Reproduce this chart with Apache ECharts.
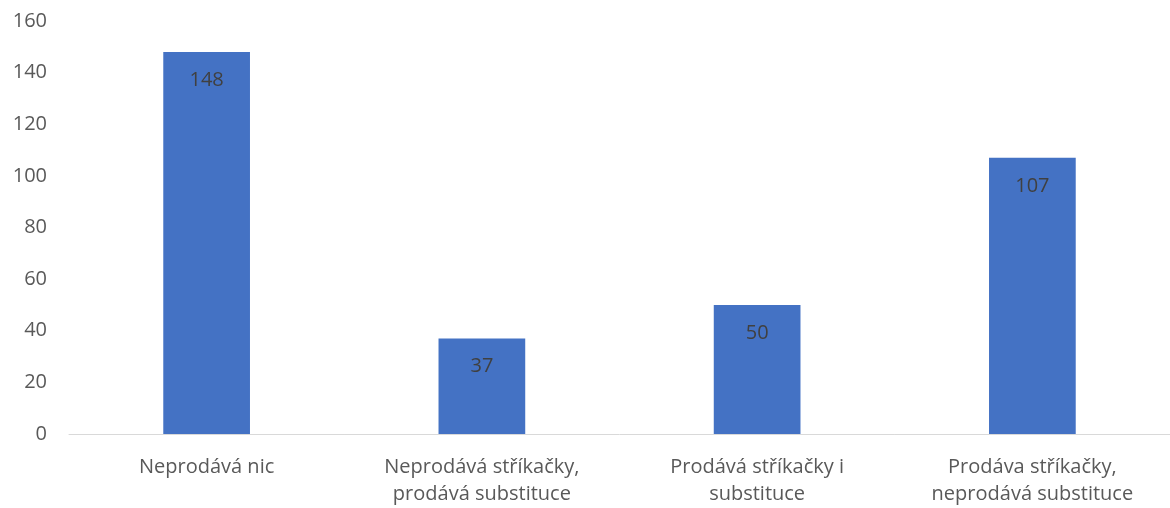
<!DOCTYPE html>
<html>
<head>
<meta charset="utf-8">
<script src="https://cdn.jsdelivr.net/npm/echarts@6/dist/echarts.min.js"></script>
<style>
  html, body { margin: 0; padding: 0; background: #fff; }
  #chart { width: 1170px; height: 508px; }
</style>
</head>
<body>
<div id="chart"></div>
<script>
var categories = ['Neprodává nic', 'Neprodává stříkačky,\nprodává substituce', 'Prodává stříkačky i\nsubstituce', 'Prodáva stříkačky,\nneprodává substituce'];
var values = [148, 37, 50, 107];

var myChart = echarts.init(document.getElementById('chart'));
var option = {
    animation: false,
    textStyle: { fontFamily: 'Open Sans' },
    grid: { left: 69, right: 0, top: 21, bottom: 74 },
    xAxis: {
        type: 'category',
        data: categories,
        axisLine: { lineStyle: { color: '#d9d9d9', width: 1 } },
        axisTick: { show: false },
        axisLabel: { color: '#595959', fontSize: 20, lineHeight: 27, margin: 20, interval: 0 }
    },
    yAxis: {
        type: 'value',
        min: 0,
        max: 160,
        interval: 20,
        splitLine: { show: false },
        axisLine: { show: false },
        axisTick: { show: false },
        axisLabel: { color: '#595959', fontSize: 20, margin: 22 }
    },
    series: [{
        type: 'bar',
        data: values,
        barWidth: '31.5%',
        itemStyle: { color: '#4472C4' },
        label: {
            show: true,
            position: 'insideTop',
            distance: 18,
            color: '#404040',
            fontSize: 20
        }
    }]
};
myChart.setOption(option);
window.onresize = function () { myChart.resize(); };
</script>
</body>
</html>
